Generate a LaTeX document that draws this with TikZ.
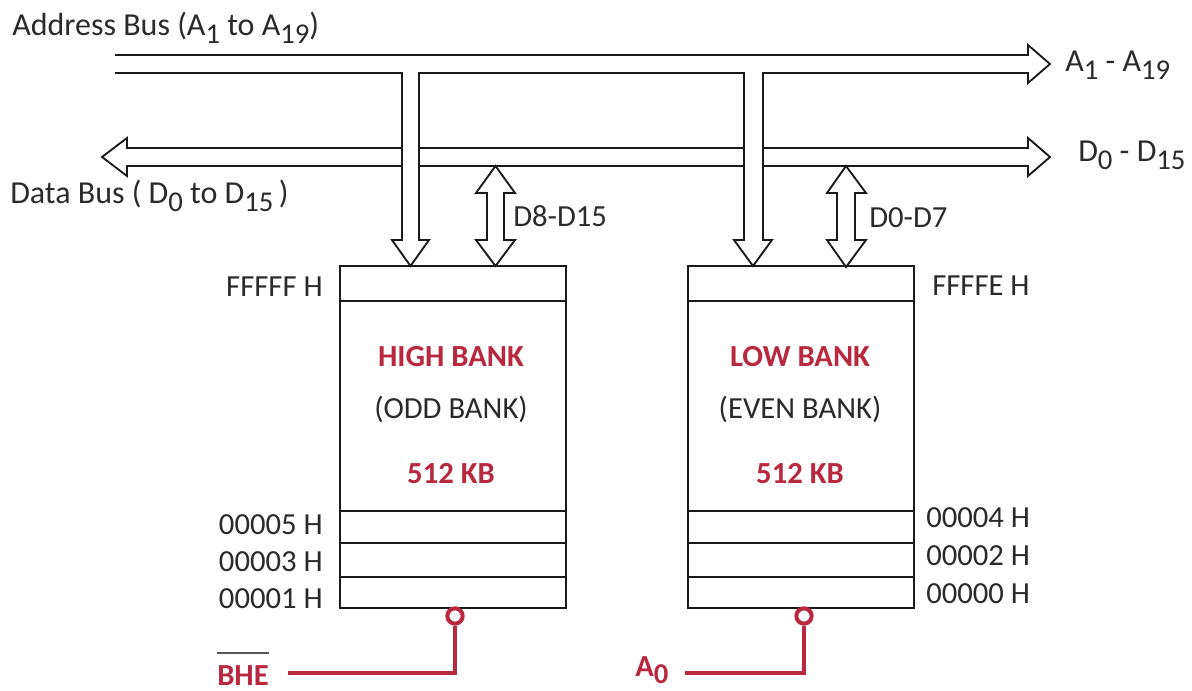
\documentclass[tikz,border=0pt]{standalone}
\usepackage{fontspec}
\setmainfont{Carlito}
\definecolor{lc}{HTML}{1A1A1A}
\definecolor{tc}{HTML}{2A2A2A}
\definecolor{bred}{HTML}{B8283E}
\newcommand{\sbs}[1]{\raisebox{-0.24em}{\fontsize{21.5}{22}\selectfont #1}}
\begin{document}
\begin{tikzpicture}[x=0.75pt,y=-0.75pt,line join=miter,
  bus/.style={draw=lc,line width=1.4pt,fill=white},
  lbl/.style={inner sep=0pt,text=tc,font=\fontsize{23}{27}\selectfont},
  buslbl/.style={inner sep=0pt,text=tc,font=\fontsize{24}{28}\selectfont},
  banklbl/.style={inner sep=0pt,text=bred,font=\bfseries\fontsize{23}{27}\selectfont},
  membox/.style={draw=lc,line width=1.4pt,minimum width=169.5pt,minimum height=256.5pt,inner sep=0pt},
  divider/.style={draw=lc,line width=1.4pt},
  wire/.style={draw=bred,line width=3.2pt},
  ring/.style={circle,draw=bred,line width=3pt,minimum size=11.5pt,inner sep=0pt,fill=white}]
\useasboundingbox (0,0) rectangle (1192,691);

% data bus (double headed hollow arrow)
\draw[bus] (127,148) -- (1028,148) -- (1028,138) -- (1050,157) -- (1028,176) -- (1028,166)
  -- (127,166) -- (127,176) -- (102,157) -- (127,138) -- cycle;

% address bus with two branches
\draw[bus] (115,55) -- (1028,55) -- (1028,45) -- (1050,64) -- (1028,83) -- (1028,73)
  -- (763,73) -- (763,240) -- (772,240) -- (753,266) -- (734,240) -- (744,240) -- (744,73)
  -- (419,73) -- (419,240) -- (429,240) -- (410.5,266) -- (392,240) -- (402,240) -- (402,73)
  -- (115,73);

% bidirectional data arrows
\draw[bus] (495.5,166) -- (515,193) -- (504,193) -- (504,240) -- (515,240) -- (495.5,266)
  -- (476,240) -- (487,240) -- (487,193) -- (476,193) -- cycle;
\draw[bus] (846,166) -- (866,193) -- (855,193) -- (855,240) -- (866,240) -- (846,267)
  -- (827,240) -- (837,240) -- (837,193) -- (827,193) -- cycle;

% memory banks
\node[membox] (hb) at (453,437) {};
\node[membox] (lb) at (801,437) {};
\foreach \yy in {301,511,543,577}{
  \draw[divider] (hb.west |- 0,\yy) -- (hb.east |- 0,\yy);
  \draw[divider] (lb.west |- 0,\yy) -- (lb.east |- 0,\yy);
}

% bus labels
\node[buslbl,anchor=base west] (abl) at (12,36) {Address Bus (A\sbs{1} to A\sbs{19})};
\node[buslbl,anchor=base west] (dbl) at (10,204) {Data Bus ( D\sbs{0} to D\sbs{15}\,)};
\node[buslbl,anchor=base west] (arl) at (1065,72) {A\sbs{1} - A\sbs{19}};
\node[buslbl,anchor=base west] (drl) at (1078,162) {D\sbs{0} - D\sbs{15}};
\node[lbl,anchor=base west] (d815) at (513,227) {D8-D15};
\node[lbl,anchor=base west] (d07) at (869,228) {D0-D7};

% address labels
\node[lbl,anchor=base east] (hfff) at (323,297) {FFFFF H};
\node[lbl,anchor=base east] (h5) at (323,534) {00005 H};
\node[lbl,anchor=base east] (h3) at (323,571) {00003 H};
\node[lbl,anchor=base east] (h1) at (323,608) {00001 H};
\node[lbl,anchor=base west] (lfff) at (932,296) {FFFFE H};
\node[lbl,anchor=base west] (l4) at (926,527) {00004 H};
\node[lbl,anchor=base west] (l2) at (926,565) {00002 H};
\node[lbl,anchor=base west] (l0) at (926,603) {00000 H};

% bank texts
\node[banklbl,anchor=base] (hbt) at (451,367) {HIGH BANK};
\node[lbl,anchor=base] (hbo) at (451,418) {(ODD BANK)};
\node[banklbl,anchor=base] (hbs) at (451,483) {512 KB};
\node[banklbl,anchor=base] (lbt) at (800,367) {LOW BANK};
\node[lbl,anchor=base] (lbe) at (800,418) {(EVEN BANK)};
\node[banklbl,anchor=base] (lbs) at (800,483) {512 KB};

% control signals
\node[ring] (c1) at (455,616) {};
\node[ring] (c2) at (804,616) {};
\node[banklbl,anchor=base west] (bhe) at (217,685) {BHE};
\draw[draw=tc!80,line width=1.1pt] ([yshift=9pt]bhe.north west) -- ([yshift=9pt]bhe.north east);
\node[banklbl,anchor=base west] (a0) at (635,676) {A\sbs{0}};
\coordinate (w1) at (288,673);
\coordinate (w2) at (685,673);
\draw[wire] (w1) -| (c1.south);
\draw[wire] (w2) -| (c2.south);
\end{tikzpicture}
\end{document}
